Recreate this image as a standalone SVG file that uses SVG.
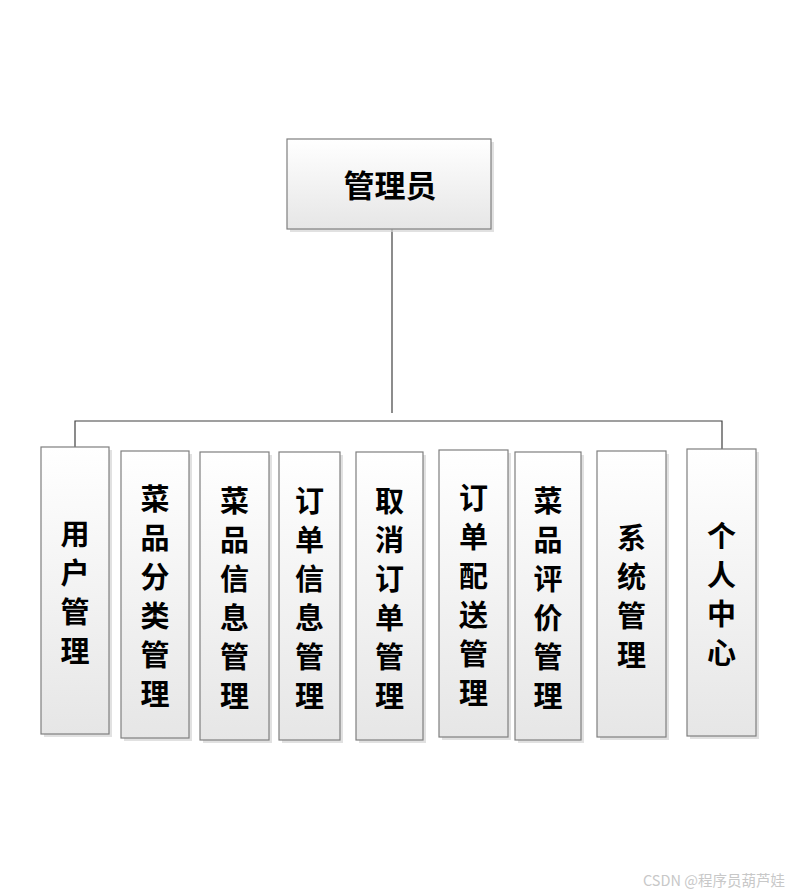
<svg xmlns="http://www.w3.org/2000/svg" width="802" height="896" viewBox="0 0 802 896">
<defs>
<linearGradient id="g" x1="0" y1="0" x2="0" y2="1">
<stop offset="0" stop-color="#ffffff"/>
<stop offset="1" stop-color="#e6e6e6"/>
</linearGradient>
</defs>
<style>
.sh{fill:#d4d4d4;opacity:0.7}
.bx{fill:url(#g);stroke:#7f7f7f;stroke-width:1.2}
.t{font-family:"Noto Sans CJK SC","Noto Sans CJK JP",sans-serif;font-weight:700;font-size:29px;fill:#000;text-anchor:middle;dominant-baseline:central}
.ln{fill:none;stroke:#404040;stroke-width:1.2}
.wm{font-family:"Noto Sans CJK SC","Liberation Sans",sans-serif;font-size:14.5px;fill:#c8c8c8}
</style>
<rect width="802" height="896" fill="#fff"/>
<g id="connectors">
<path class="ln" d="M392 229V413"/>
<path class="ln" d="M75 447V421H722V449"/>
</g>
<g id="n0">
<rect class="sh" x="290" y="142" width="204" height="90"/>
<rect class="bx" x="287" y="139" width="204" height="90"/>
<text class="t" x="390" y="183" style="font-size:31px">管理员</text>
</g>
<g id="n1">
<rect class="sh" x="44" y="450" width="68" height="287"/>
<rect class="bx" x="41" y="447" width="68" height="287"/>
<text class="t"><tspan x="75" y="532">用</tspan><tspan x="75" dy="39">户</tspan><tspan x="75" dy="39">管</tspan><tspan x="75" dy="39">理</tspan></text>
</g>
<g id="n2">
<rect class="sh" x="124" y="454" width="68" height="287"/>
<rect class="bx" x="121" y="451" width="68" height="287"/>
<text class="t"><tspan x="155" y="497">菜</tspan><tspan x="155" dy="39">品</tspan><tspan x="155" dy="39">分</tspan><tspan x="155" dy="39">类</tspan><tspan x="155" dy="39">管</tspan><tspan x="155" dy="39">理</tspan></text>
</g>
<g id="n3">
<rect class="sh" x="203" y="455" width="69" height="288"/>
<rect class="bx" x="200" y="452" width="69" height="288"/>
<text class="t"><tspan x="234.5" y="498.5">菜</tspan><tspan x="234.5" dy="39">品</tspan><tspan x="234.5" dy="39">信</tspan><tspan x="234.5" dy="39">息</tspan><tspan x="234.5" dy="39">管</tspan><tspan x="234.5" dy="39">理</tspan></text>
</g>
<g id="n4">
<rect class="sh" x="282" y="455" width="61" height="288"/>
<rect class="bx" x="279" y="452" width="61" height="288"/>
<text class="t"><tspan x="309.5" y="498.5">订</tspan><tspan x="309.5" dy="39">单</tspan><tspan x="309.5" dy="39">信</tspan><tspan x="309.5" dy="39">息</tspan><tspan x="309.5" dy="39">管</tspan><tspan x="309.5" dy="39">理</tspan></text>
</g>
<g id="n5">
<rect class="sh" x="359" y="455" width="67" height="288"/>
<rect class="bx" x="356" y="452" width="67" height="288"/>
<text class="t"><tspan x="389.5" y="498.5">取</tspan><tspan x="389.5" dy="39">消</tspan><tspan x="389.5" dy="39">订</tspan><tspan x="389.5" dy="39">单</tspan><tspan x="389.5" dy="39">管</tspan><tspan x="389.5" dy="39">理</tspan></text>
</g>
<g id="n6">
<rect class="sh" x="442" y="453" width="69" height="287"/>
<rect class="bx" x="439" y="450" width="69" height="287"/>
<text class="t"><tspan x="473.5" y="496">订</tspan><tspan x="473.5" dy="39">单</tspan><tspan x="473.5" dy="39">配</tspan><tspan x="473.5" dy="39">送</tspan><tspan x="473.5" dy="39">管</tspan><tspan x="473.5" dy="39">理</tspan></text>
</g>
<g id="n7">
<rect class="sh" x="518" y="455" width="66" height="288"/>
<rect class="bx" x="515" y="452" width="66" height="288"/>
<text class="t"><tspan x="548" y="498.5">菜</tspan><tspan x="548" dy="39">品</tspan><tspan x="548" dy="39">评</tspan><tspan x="548" dy="39">价</tspan><tspan x="548" dy="39">管</tspan><tspan x="548" dy="39">理</tspan></text>
</g>
<g id="n8">
<rect class="sh" x="600" y="454" width="69" height="286"/>
<rect class="bx" x="597" y="451" width="69" height="286"/>
<text class="t"><tspan x="631.5" y="535.5">系</tspan><tspan x="631.5" dy="39">统</tspan><tspan x="631.5" dy="39">管</tspan><tspan x="631.5" dy="39">理</tspan></text>
</g>
<g id="n9">
<rect class="sh" x="690" y="452" width="69" height="287"/>
<rect class="bx" x="687" y="449" width="69" height="287"/>
<text class="t"><tspan x="721.5" y="534">个</tspan><tspan x="721.5" dy="39">人</tspan><tspan x="721.5" dy="39">中</tspan><tspan x="721.5" dy="39">心</tspan></text>
</g>
<text class="wm" x="643" y="886">CSDN @程序员葫芦娃</text>
</svg>
